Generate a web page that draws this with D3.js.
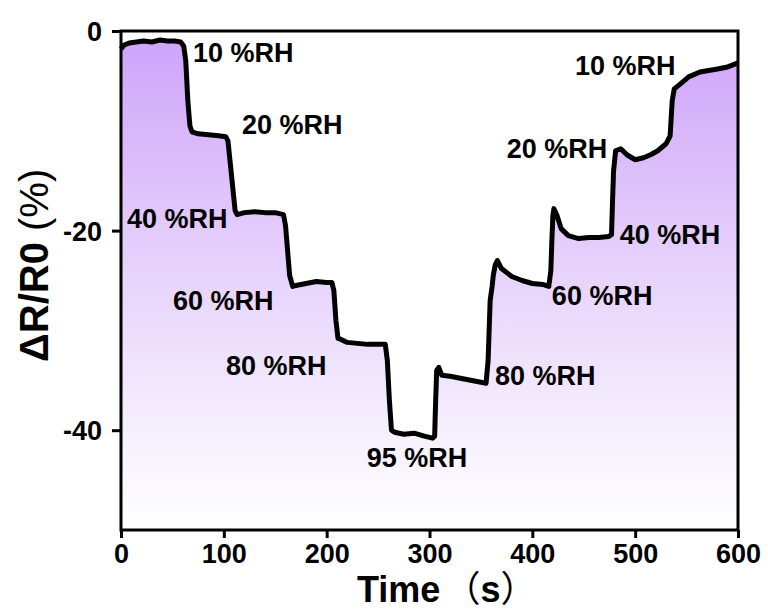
<!DOCTYPE html>
<html>
<head>
<meta charset="utf-8">
<script src="https://cdn.jsdelivr.net/npm/d3@7"></script>
<style>
  body { margin: 0; background: #fff; }
  text { font-family: Arial, "Liberation Sans", sans-serif; }
</style>
</head>
<body>
<div id="chart"></div>
<script>
// response curve (time in s, dR/R0 in %)
var times = [0, 3, 8, 15, 22, 30, 38, 45, 52, 58, 61, 63, 65, 67, 69, 75, 85, 95, 102,
  104, 106, 109, 111, 113, 120, 130, 140, 150, 158,
  160, 162, 164, 167, 170, 180, 190, 200, 205,
  207, 209, 211, 214, 220, 230, 240, 250, 257,
  259, 261, 263, 266, 275, 285, 295, 303,
  305, 306, 307, 309, 312, 320, 330, 340, 350, 355,
  357, 358, 359, 361, 362, 364, 366, 370, 380, 390, 400, 410, 416,
  418, 419, 420, 421, 424, 428, 435, 445, 455, 465, 474,
  477, 478, 479, 481, 486, 492, 500, 508, 515, 522, 530,
  534, 536, 538, 544, 552, 563, 580, 590, 600];
var values = [-1.8, -1.4, -1.2, -1.1, -1.0, -1.1, -0.9, -1.0, -1.0, -1.1, -1.5, -3, -7, -9.5, -10.1, -10.3, -10.4, -10.5, -10.6,
  -11, -13, -16, -18, -18.4, -18.2, -18.1, -18.2, -18.2, -18.4,
  -19.5, -22, -24.5, -25.6, -25.5, -25.3, -25.1, -25.2, -25.2,
  -26, -29, -30.8, -30.9, -31.2, -31.3, -31.4, -31.4, -31.4,
  -33, -37, -40, -40.2, -40.4, -40.3, -40.6, -40.8,
  -40.6, -37, -34, -33.7, -34.5, -34.6, -34.8, -35, -35.2, -35.3,
  -33, -30, -27, -25.5, -24.5, -23.4, -23.0, -23.8, -24.6, -25.0, -25.3, -25.4, -25.6,
  -24, -21, -18.5, -17.8, -18.5, -19.8, -20.5, -20.8, -20.7, -20.7, -20.6,
  -20.4, -17, -14, -12.0, -11.8, -12.4, -12.9, -12.7, -12.4, -12.0, -11.3,
  -10.5, -7, -5.8, -5.3, -4.6, -4.1, -3.8, -3.6, -3.2];

var xTicks = [0, 100, 200, 300, 400, 500, 600];
var yTicks = [0, -20, -40];

// humidity annotations, anchored in data space
var labelText = ["10 %RH", "20 %RH", "40 %RH", "60 %RH", "80 %RH", "95 %RH",
  "80 %RH", "60 %RH", "40 %RH", "20 %RH", "10 %RH"];
var labelT = [70, 117.7, 5.8, 50.6, 102, 239, 363.7, 419, 485, 375, 441.5];
var labelV = [-3.1, -10.3, -19.7, -28, -34.5, -43.7, -35.5, -27.5, -21.3, -12.7, -4.4];

var width = 768, height = 610;
var margin = {left: 121, top: 31, right: 30, bottom: 80};

var svg = d3.select('#chart').append('svg')
    .attr('width', width)
    .attr('height', height);

var x = d3.scaleLinear().domain([0, 600]).range([margin.left, width - margin.right]);
var y = d3.scaleLinear().domain([-50, 0]).range([height - margin.bottom, margin.top]);

var data = times.map((t, i) => ({t: t, v: values[i]}));

// gradient fill under the curve
var grad = svg.append('defs').append('linearGradient')
    .attr('id', 'fillGrad')
    .attr('gradientUnits', 'userSpaceOnUse')
    .attr('x1', 0).attr('x2', 0)
    .attr('y1', y(0)).attr('y2', y(-50));
grad.append('stop').attr('offset', '0%').attr('stop-color', 'rgb(206,162,250)');
grad.append('stop').attr('offset', '40%').attr('stop-color', 'rgb(227,203,251)');
grad.append('stop').attr('offset', '80%').attr('stop-color', 'rgb(245,239,253)');
grad.append('stop').attr('offset', '100%').attr('stop-color', '#ffffff');

var area = d3.area()
    .x(d => x(d.t))
    .y0(y(-50))
    .y1(d => y(d.v));

svg.append('path')
    .datum(data)
    .attr('d', area)
    .attr('fill', 'url(#fillGrad)');

var line = d3.line()
    .x(d => x(d.t))
    .y(d => y(d.v));

svg.append('path')
    .datum(data)
    .attr('d', line)
    .attr('fill', 'none')
    .attr('stroke', '#000')
    .attr('stroke-width', 5)
    .attr('stroke-linejoin', 'round');

// frame
svg.append('rect')
    .attr('x', x(0)).attr('y', y(0))
    .attr('width', x(600) - x(0))
    .attr('height', y(-50) - y(0))
    .attr('fill', 'none')
    .attr('stroke', '#000')
    .attr('stroke-width', 3);

// axes (plain hyphen for negatives, like the original)
var xAxis = svg.append('g')
    .attr('transform', 'translate(0,' + y(-50) + ')')
    .call(d3.axisBottom(x).tickValues(xTicks).tickSize(8).tickPadding(6).tickFormat(d => String(d)));
var yAxis = svg.append('g')
    .attr('transform', 'translate(' + x(0) + ',0)')
    .call(d3.axisLeft(y).tickValues(yTicks).tickSize(9).tickPadding(10).tickFormat(d => String(d)));

[xAxis, yAxis].forEach(function (g) {
  g.select('.domain').remove();
  g.selectAll('line').attr('stroke', '#000').attr('stroke-width', 3);
  g.selectAll('text')
      .attr('fill', '#000')
      .style('font-size', '27px')
      .style('font-weight', 'bold')
      .style('font-family', 'Arial, "Liberation Sans", sans-serif');
});
yAxis.selectAll('text').attr('dy', '0.35em');

// annotations
svg.selectAll('.rh')
    .data(labelText)
    .enter().append('text')
    .attr('class', 'rh')
    .attr('x', (d, i) => x(labelT[i]))
    .attr('y', (d, i) => y(labelV[i]))
    .style('font-size', '27px')
    .style('font-weight', 'bold')
    .text(d => d);

// axis titles
var xt = svg.append('text')
    .attr('x', 357)
    .attr('y', 602)
    .style('font-size', '36px');
xt.append('tspan').style('font-weight', 'bold').text('Time');
xt.append('tspan').attr('dx', 4).style('font-family', '"Noto Sans CJK SC", sans-serif').style('font-weight', 'normal').text('（');
xt.append('tspan').style('font-weight', 'bold').text('s');
xt.append('tspan').style('font-family', '"Noto Sans CJK SC", sans-serif').style('font-weight', 'normal').text('）');

var yt = svg.append('text')
    .attr('transform', 'translate(48,362) rotate(-90)')
    .style('font-size', '40px');
yt.append('tspan').style('font-weight', 'bold').text('ΔR/R0');
yt.append('tspan').style('font-weight', 'normal').text(' (%)');
</script>
</body>
</html>
